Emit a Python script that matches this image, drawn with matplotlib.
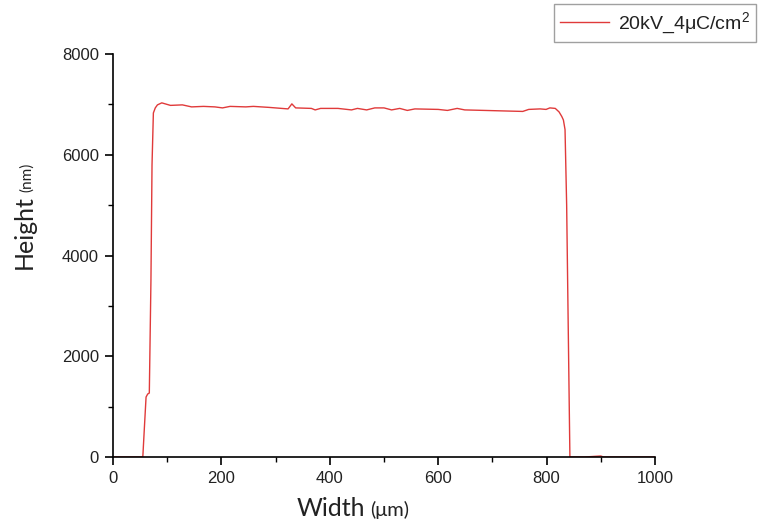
import matplotlib
matplotlib.use("Agg")
import matplotlib.pyplot as plt
from matplotlib.ticker import MultipleLocator

# Surface profile of the exposed structure
width_um = [0, 20, 40, 55, 58, 61, 64, 67, 70, 72, 74.5, 78, 82, 86, 90,
            106, 128, 145, 167, 188, 202, 216, 245, 259, 288, 323, 330, 337,
            366, 373, 383, 415, 440, 451, 468, 483, 500, 514, 529, 543, 557,
            600, 617, 635, 649, 685, 720, 756, 767, 788, 799, 806, 816, 823,
            828, 831, 834, 837, 843, 846, 870, 900, 905, 930, 960, 1000]
height_nm = [0, 0, 0, 0, 600, 1190, 1250, 1270, 3500, 5800, 6830, 6930, 6990,
             7010, 7030, 6980, 6990, 6950, 6960, 6950, 6930, 6960, 6950, 6960,
             6940, 6910, 7010, 6930, 6920, 6890, 6920, 6920, 6890, 6920, 6890,
             6930, 6930, 6890, 6920, 6880, 6910, 6900, 6880, 6920, 6890, 6880,
             6870, 6860, 6900, 6910, 6900, 6930, 6920, 6850, 6760, 6690, 6500,
             5000, 0, 0, 0, 20, 0, 0, 0, 0]
series_label = "20kV_4μC/cm$^2$"

x_ticks = [0, 200, 400, 600, 800, 1000]
y_ticks = [0, 2000, 4000, 6000, 8000]

plt.rcParams["font.family"] = ["Liberation Sans", "DejaVu Sans"]
plt.rcParams["mathtext.fontset"] = "custom"
plt.rcParams["mathtext.rm"] = "Liberation Sans"

fig = plt.figure(figsize=(7.58, 5.25), dpi=100)
ax = fig.add_axes([113 / 758, 1 - 457 / 525, (655 - 113) / 758, (457 - 54) / 525])

ax.plot(width_um, height_nm, color="#e03a3a", lw=1.0, label=series_label)

ax.set_xlim(0, 1000)
ax.set_ylim(0, 8000)
ax.set_xticks(x_ticks)
ax.set_yticks(y_ticks)
ax.xaxis.set_minor_locator(MultipleLocator(100))
ax.yaxis.set_minor_locator(MultipleLocator(1000))
ax.tick_params(which="major", direction="out", length=6, width=1.2,
               labelsize=12, colors="black", labelcolor="#222222", pad=4)
ax.tick_params(which="minor", direction="out", length=3.5, width=1.0)
for side in ("top", "right"):
    ax.spines[side].set_visible(False)
for side in ("left", "bottom"):
    ax.spines[side].set_linewidth(1.2)

# Axis titles: large name followed by a smaller unit
lab_font = ["Lato", "DejaVu Sans"]
fig.text(331 / 758, 1 - 508 / 525, "Width", fontsize=18, family=lab_font,
         ha="center", va="center", color="#222222")
fig.text(370 / 758, 1 - 510 / 525, "(μm)", fontsize=14.5, family=lab_font,
         ha="left", va="center", color="#222222")
fig.text(24 / 758, 1 - 232 / 525, "Height", fontsize=18, family=lab_font,
         rotation=90, ha="center", va="center", color="#222222")
fig.text(27 / 758, 1 - 177 / 525, "(nm)", fontsize=11, family=lab_font,
         rotation=90, ha="center", va="center", color="#222222")

leg = ax.legend(loc="upper right", bbox_to_anchor=(756 / 758, 1 - 4 / 525),
                bbox_transform=fig.transFigure, fontsize=14, frameon=True,
                fancybox=False, handlelength=2.5, borderpad=0.3,
                handletextpad=0.5, borderaxespad=0)
leg.get_frame().set_edgecolor("#888888")
leg.get_frame().set_linewidth(1.0)
for t in leg.get_texts():
    t.set_color("#222222")

fig.savefig("out.png", dpi=100)
